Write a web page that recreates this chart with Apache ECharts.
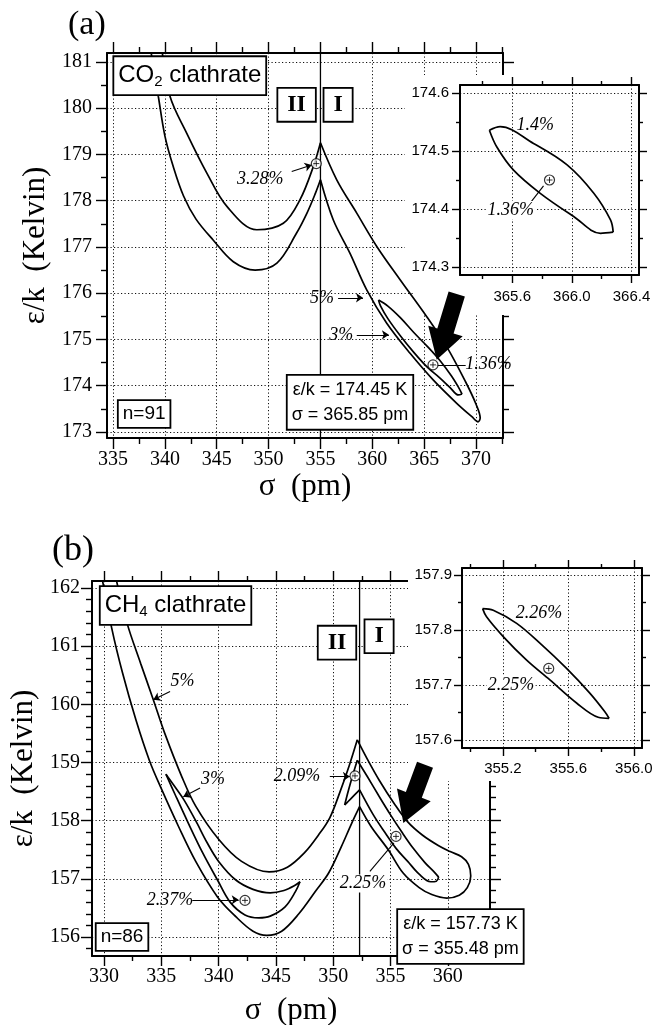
<!DOCTYPE html>
<html><head><meta charset="utf-8">
<script src="https://cdn.jsdelivr.net/npm/echarts@6/dist/echarts.min.js"></script>
<style>html,body{margin:0;padding:0;background:#fff}#c{width:655px;height:1025px}</style>
</head><body><div id="c"></div><script>
// ================= DATA =================
// ---- Panel (a): CO2 clathrate ----
const aFitSigma = 365.85, aFitEps = 174.45;
const aBoundary = 355;
const aXRange = [334.42, 372.6], aYRange = [172.87, 181.19];
const aXMajor = [335,340,345,350,355,360,365,370];
const aXMinor = [337.5,342.5,347.5,352.5,357.5,362.5,367.5,372.5];
const aYMajor = [173,174,175,176,177,178,179,180,181];
const aYMinor = [173.5,174.5,175.5,176.5,177.5,178.5,179.5,180.5];
// 5% contour, pieces between cusps
const a5LowerArm = [[338.6,181.3],[339.37,180.25],[340.0,179.4],[340.8,178.74],[341.8,178.1],[343.0,177.6],[344.65,177.15],[346.6,176.68],[348.7,176.5],[350.8,176.65],[352.7,177.3],[353.7,177.73],[354.5,178.15],[355.0,178.45]];
const a5Band = [[355.0,178.45],[356.24,177.58],[357.85,176.86],[359.46,176.07],[361.39,175.35],[363.64,174.7],[365.89,174.12],[368.14,173.62],[369.6,173.33],[370.2,173.22],[370.4,173.3],[370.0,173.6],[369.0,174.08],[367.18,174.84],[365.25,175.49],[362.68,176.29],[360.43,177.01],[358.5,177.73],[356.57,178.45],[355.0,179.25]];
const a5UpperArm = [[355.0,179.25],[354.32,178.74],[353.03,178.02],[351.42,177.51],[348.86,177.37],[346.0,177.87],[344.06,178.59],[342.1,179.46],[340.5,180.25],[339.7,181.3]];
// 3% contour
const a3Upper = [[360.6,175.85],[361.5,175.72],[362.7,175.47],[364.0,175.15],[365.3,174.85],[366.5,174.55],[367.6,174.22],[368.3,173.97],[368.65,173.82]];
const a3Lower = [[368.65,173.82],[368.3,173.8],[367.5,173.96],[366.5,174.17],[365.3,174.4],[364.0,174.72],[362.7,175.08],[361.5,175.45],[360.8,175.72],[360.6,175.85]];
const aMarkers = [[354.6,178.8],[aFitSigma,aFitEps]];
// inset (a)
const aiXRange = [365.25, 366.45], aiYRange = [174.286, 174.614];
const aiXMajor = [365.6,366.0,366.4], aiXMinor = [365.4,365.8,366.2];
const aiYMajor = [174.3,174.4,174.5,174.6], aiYMinor = [174.35,174.45,174.55];
const aiUpper = [[365.447,174.536],[365.519,174.542],[365.743,174.513],[365.968,174.476],[366.147,174.427],[366.259,174.381],[366.277,174.36]];
const aiLower = [[366.277,174.36],[366.192,174.358],[366.012,174.387],[365.788,174.427],[365.609,174.467],[365.497,174.507],[365.447,174.536]];
// annotations (a): [sigma, eps, text, kind]
const aNotes = [
  [342.4,180.7,'CO_2 clathrate','title'],
  [352.7,180.07,'II','roman'],
  [356.7,180.07,'I','roman'],
  [349.2,178.47,'3.28%','pct'],
  [355.15,175.89,'5%','pct'],
  [357.0,175.1,'3%','pct'],
  [371.2,174.47,'1.36%','pct'],
  [357.85,173.64,'param','param'],
  [338.0,173.39,'n=91','count']
];
const aiNotes = [[365.755,174.545,'1.4%','pct'],[365.59,174.398,'1.36%','pctBg']];
const aArrows = [[352.23,178.63,354.16,178.77],[356.7,175.9,359.1,175.9],[358.5,175.1,361.6,175.1]];
const aLeaders = [[366.15,174.45,369.0,174.45]];
const aiLeaders = [[365.72,174.41,365.81,174.44]];
const aBigArrow = [[368.14,175.98,366.21,174.56]];

// ---- Panel (b): CH4 clathrate ----
const bFitSigma = 355.48, bFitEps = 157.73;
const bBoundary = 352.3;
const bXRange = [328.95, 363.68], bYRange = [155.674, 162.12];
const bXMajor = [330,335,340,345,350,355,360];
const bXMinor = [332.5,337.5,342.5,347.5,352.5,357.5,362.5];
const bYMajor = [156,157,158,159,160,161,162];
const bYMinor = [155.8,156.2,156.4,156.6,156.8,157.2,157.4,157.6,157.8,158.2,158.4,158.6,158.8,159.2,159.4,159.6,159.8,160.2,160.4,160.6,160.8,161.2,161.4,161.6,161.8];
// 5% contour
const b5Lower = [[329.8,162.2],[330.67,161.31],[331.6,160.55],[332.8,159.72],[333.95,159.04],[335.0,158.55],[336.5,157.9],[338.0,157.3],[339.9,156.69],[341.5,156.35],[343.0,156.1],[344.2,156.03],[345.5,156.1],[347.0,156.4],[348.5,156.8],[349.6,157.1],[350.7,157.55],[351.6,157.95],[352.3,158.24]];
const b5Bulb = [[352.3,158.24],[353.3,157.9],[354.8,157.5],[356.1,157.1],[357.5,156.85],[358.6,156.73],[359.9,156.67],[361.0,156.72],[361.7,156.85],[362.0,157.05],[361.8,157.25],[361.2,157.38],[360.2,157.47],[359.2,157.57],[357.8,157.75],[356.5,157.98],[355.3,158.3],[354.0,158.7],[353.0,159.05],[352.1,159.39]];
const b5Upper = [[352.1,159.39],[351.4,158.95],[350.6,158.5],[349.7,158.05],[348.7,157.75],[347.5,157.45],[346.0,157.2],[344.4,157.12],[342.0,157.3],[340.0,157.68],[338.0,158.25],[336.8,158.75],[335.3,159.5],[334.3,160.08],[333.2,160.7],[332.0,161.4],[331.0,162.2]];
// 3% contours
const b3RightUpper = [[352.1,159.04],[353,158.75],[354,158.42],[355,158.1],[356,157.8],[357,157.52],[358,157.28],[358.8,157.12],[359.2,157.03]];
const b3RightLower = [[359.2,157.03],[359.0,156.96],[358.5,156.95],[357.5,157.08],[356.5,157.3],[355.5,157.52],[354.5,157.8],[353.5,158.1],[352.3,158.53]];
const b3VRight = [[352.3,158.53],[351.8,158.43],[351.3,158.33],[351.0,158.27]];
const b3VLeft = [[351.0,158.27],[351.3,158.5],[351.7,158.78],[352.1,159.04]];
const b3LeftUpper = [[335.4,158.8],[336.2,158.58],[337.0,158.35],[338.0,158.0],[339.0,157.62],[340.0,157.3],[341.5,156.98],[343.0,156.82],[344.5,156.76],[345.7,156.8],[346.6,156.88],[347.1,156.95]];
const b3LeftLower = [[347.1,156.95],[346.7,156.78],[345.8,156.52],[344.5,156.36],[343.5,156.33],[342.3,156.38],[341.0,156.6],[339.9,156.98],[338.6,157.45],[337.3,157.98],[336.2,158.45],[335.4,158.8]];
const bMarkers = [[351.9,158.77],[342.3,156.63],[bFitSigma,bFitEps]];
// inset (b)
const biXRange = [354.95, 356.05], biYRange = [157.585, 157.913];
const biXMajor = [355.2,355.6,356.0], biXMinor = [355.0,355.4,355.8];
const biYMajor = [157.6,157.7,157.8,157.9], biYMinor = [157.65,157.75,157.85];
const biUpper = [[355.076,157.839],[355.141,157.836],[355.284,157.812],[355.426,157.776],[355.589,157.730],[355.731,157.685],[355.823,157.651],[355.849,157.639]];
const biLower = [[355.849,157.639],[355.782,157.641],[355.650,157.667],[355.487,157.709],[355.345,157.745],[355.202,157.788],[355.100,157.824],[355.076,157.839]];
const bNotes = [
  [336.24,161.7,'CH_4 clathrate','title'],
  [350.33,161.06,'II','roman'],
  [354.0,161.17,'I','roman'],
  [336.85,160.4,'5%','pct'],
  [339.5,158.72,'3%','pct'],
  [346.84,158.76,'2.09%','pct'],
  [335.76,156.64,'2.37%','pct'],
  [352.6,156.92,'2.25%','pctBg'],
  [361.1,156.01,'param','param'],
  [331.57,156.0,'n=86','count']
];
const biNotes = [[355.42,157.83,'2.26%','pct'],[355.25,157.70,'2.25%','pctBg']];
const bArrows = [[335.76,160.22,334.3,160.08],[338.38,158.56,336.92,158.41],[349.7,158.76,351.45,158.76],[337.7,156.64,341.75,156.64]];
const bLeaders = [[353.2,157.13,355.3,157.62]];
const bBigArrow = [[358.01,158.96,356.12,157.96]];

// ================= STYLE / BUILD =================
const SERIF = '"Liberation Serif","Times New Roman","DejaVu Serif",serif';
const SANS = '"Liberation Sans",Arial,Helvetica,sans-serif';
const xAxes = [], yAxes = [];

function addAxes(dim, gi, range, majors, minors, st) {
  const list = dim === 'x' ? xAxes : yAxes;
  const sides = dim === 'x' ? ['bottom','top'] : ['left','right'];
  const idx = list.length;
  const common = {type:'value', gridIndex:gi, min:range[0], max:range[1], z:st.z,
    axisPointer:{show:false}, minorTick:{show:false}, minorSplitLine:{show:false}};
  const lineOn = {show:true, onZero:false, lineStyle:{color:'#000', width:st.lineW}};
  const lineOff = {show:false, onZero:false};
  const tick = (vals, len) => ({show:true, inside:false, customValues:vals, length:len, lineStyle:{color:'#000', width:1.4}});
  list.push(Object.assign({}, common, {position:sides[0], axisLine:lineOn, axisTick:tick(majors, st.major),
    axisLabel:{show:true, customValues:majors, formatter:st.fmt, color:'#000', fontFamily:st.font, fontSize:st.fontSize, margin:st.margin},
    splitLine:{show:true, lineStyle:{color:'#111', width:1, type:[1.2,2.3]}},
    name:st.name || '', nameLocation:'middle', nameGap:st.nameGap || 0,
    nameTextStyle:{fontFamily:SERIF, fontSize:31, color:'#000'}}));
  list.push(Object.assign({}, common, {position:sides[0], axisLine:lineOff, axisTick:tick(minors, st.minor), axisLabel:{show:false}, splitLine:{show:false}}));
  list.push(Object.assign({}, common, {position:sides[1], axisLine:lineOn, axisTick:tick(majors, st.major), axisLabel:{show:false}, splitLine:{show:false}}));
  list.push(Object.assign({}, common, {position:sides[1], axisLine:lineOff, axisTick:tick(minors, st.minor), axisLabel:{show:false}, splitLine:{show:false}}));
  return idx;
}
const intFmt = v => String(Math.round(v));
const f1 = v => v.toFixed(1);
const mainStyle = (fs, major, minor, margin, name, gap) => ({z:0, lineW:2, major, minor, fmt:intFmt, font:SERIF, fontSize:fs, margin, name, nameGap:gap});
const insetStyle = (margin) => ({z:60, lineW:2, major:8, minor:4, fmt:f1, font:SANS, fontSize:15, margin});

const ax = {
  aX: addAxes('x', 0, aXRange, aXMajor, aXMinor, mainStyle(20, 11, 6, 12, 'σ  (pm)', 33)),
  aY: addAxes('y', 0, aYRange, aYMajor, aYMinor, mainStyle(20, 11, 6, 15, 'ε/k  (Kelvin)', 55)),
  aiX: addAxes('x', 1, aiXRange, aiXMajor, aiXMinor, insetStyle(14)),
  aiY: addAxes('y', 1, aiYRange, aiYMajor, aiYMinor, insetStyle(11)),
  bX: addAxes('x', 2, bXRange, bXMajor, bXMinor, mainStyle(20, 10, 5, 11, 'σ  (pm)', 39)),
  bY: addAxes('y', 2, bYRange, bYMajor, bYMinor, mainStyle(20, 11, 6, 12, 'ε/k  (Kelvin)', 53)),
  biX: addAxes('x', 3, biXRange, biXMajor, biXMinor, insetStyle(13)),
  biY: addAxes('y', 3, biYRange, biYMajor, biYMinor, insetStyle(10))
};

const series = [];
function curve(xi, yi, pts, z) {
  series.push({type:'line', xAxisIndex:xi, yAxisIndex:yi, data:pts, showSymbol:false, symbol:'none',
    smooth:0.35, lineStyle:{color:'#000', width:1.7}, z:z, silent:true, clip:true});
}
function vline(xi, yi, x, yr, z) {
  series.push({type:'line', xAxisIndex:xi, yAxisIndex:yi, data:[[x, yr[0]],[x, yr[1]]], showSymbol:false, symbol:'none',
    lineStyle:{color:'#000', width:1.3}, z:z, silent:true});
}
function arrows(xi, yi, list, head, z) {
  series.push({type:'lines', coordinateSystem:'cartesian2d', xAxisIndex:xi, yAxisIndex:yi,
    data:list.map(a => ({coords:[[a[0],a[1]],[a[2],a[3]]]})),
    symbol: head ? ['none','arrow'] : ['none','none'], symbolSize:[0,7],
    lineStyle:{color:'#000', width:1.1, opacity:1, curveness:0}, z:z, silent:true});
}
function markers(xi, yi, pts, z) {
  series.push({type:'scatter', xAxisIndex:xi, yAxisIndex:yi, data:pts, symbol:'circle', symbolSize:10,
    itemStyle:{color:'#fff', borderColor:'#000', borderWidth:1.2}, z:z, silent:true});
  series.push({type:'scatter', xAxisIndex:xi, yAxisIndex:yi, data:pts, symbol:'path://M0,5L10,5M5,0L5,10', symbolSize:6,
    itemStyle:{color:'none', borderColor:'#000', borderWidth:1}, z:z+1, silent:true});
}
function bigArrow(xi, yi, data, z) {
  series.push({type:'custom', xAxisIndex:xi, yAxisIndex:yi, data:data, encode:{x:[0,2], y:[1,3]}, z:z, silent:true,
    renderItem:(p, api) => {
      const t = api.coord([api.value(0), api.value(1)]), h = api.coord([api.value(2), api.value(3)]);
      const dx = h[0]-t[0], dy = h[1]-t[1], L = Math.hypot(dx, dy), ux = dx/L, uy = dy/L, px = -uy, py = ux;
      const hw = 8.5, HW = 18, HL = 30;
      const bx = h[0]-ux*HL, by = h[1]-uy*HL;
      return {type:'polygon', shape:{points:[[t[0]+px*hw,t[1]+py*hw],[bx+px*hw,by+py*hw],[bx+px*HW,by+py*HW],[h[0],h[1]],
        [bx-px*HW,by-py*HW],[bx-px*hw,by-py*hw],[t[0]-px*hw,t[1]-py*hw]]}, style:{fill:'#000'}};
    }});
}
const boxBase = {backgroundColor:'#ffffff', borderColor:'#000', borderWidth:1.8};
function noteLabel(n, fitS, fitE) {
  const kind = n[3], t = n[2];
  const base = {show:true, position:'inside', color:'#000', textBorderWidth:0, opacity:1};
  if (kind === 'pct') return Object.assign(base, {formatter:t, fontFamily:SERIF, fontStyle:'italic', fontSize:18});
  if (kind === 'pctBg') return Object.assign(base, {formatter:t, fontFamily:SERIF, fontStyle:'italic', fontSize:18, backgroundColor:'#ffffff', padding:[0,1]});
  if (kind === 'roman') return Object.assign(base, boxBase, {formatter:t, fontFamily:SERIF, fontWeight:'bold', fontSize:24, padding:[5,9,3,9]});
  if (kind === 'count') return Object.assign(base, boxBase, {formatter:t, fontFamily:SANS, fontSize:19, padding:[4,4,3,4]});
  if (kind === 'param') return Object.assign(base, boxBase, {formatter:'ε/k = ' + fitE.toFixed(2) + ' K\nσ = ' + fitS.toFixed(2) + ' pm',
    fontFamily:SANS, fontSize:18, lineHeight:25, padding:[2,4,1,4]});
  if (kind === 'title') {
    const f = '{t|' + t.replace(/_(\d)/, '}{s|$1}{t|') + '}';
    return Object.assign(base, boxBase, {formatter:f, padding:[4,4,5,4],
      rich:{t:{fontFamily:SANS, fontSize:24, color:'#000', lineHeight:28, verticalAlign:'middle'},
            s:{fontFamily:SANS, fontSize:15, color:'#000', lineHeight:14, verticalAlign:'bottom'}}});
  }
}
function notes(xi, yi, list, fitS, fitE, z) {
  series.push({type:'scatter', xAxisIndex:xi, yAxisIndex:yi, symbolSize:1, itemStyle:{color:'rgba(0,0,0,0)'}, z:z, silent:true,
    emphasis:{disabled:true}, data:list.map(n => ({value:[n[0], n[1]], label:noteLabel(n, fitS, fitE)}))});
}

// panel (a)
vline(ax.aX, ax.aY, aBoundary, aYRange, 54);
[a5LowerArm, a5Band, a5UpperArm, a3Upper, a3Lower].forEach(c => curve(ax.aX, ax.aY, c, 55));
arrows(ax.aX, ax.aY, aArrows, true, 56);
arrows(ax.aX, ax.aY, aLeaders, false, 56);
markers(ax.aX, ax.aY, aMarkers, 57);
bigArrow(ax.aX, ax.aY, aBigArrow, 58);
notes(ax.aX, ax.aY, aNotes, aFitSigma, aFitEps, 59);
// inset (a)
[aiUpper, aiLower].forEach(c => curve(ax.aiX, ax.aiY, c, 62));
arrows(ax.aiX, ax.aiY, aiLeaders, false, 63);
notes(ax.aiX, ax.aiY, aiNotes, aFitSigma, aFitEps, 63);
markers(ax.aiX, ax.aiY, [[aFitSigma, aFitEps]], 64);
// panel (b)
vline(ax.bX, ax.bY, bBoundary, bYRange, 54);
[b5Lower, b5Bulb, b5Upper, b3RightUpper, b3RightLower, b3VRight, b3VLeft, b3LeftUpper, b3LeftLower].forEach(c => curve(ax.bX, ax.bY, c, 55));
arrows(ax.bX, ax.bY, bArrows, true, 56);
arrows(ax.bX, ax.bY, bLeaders, false, 56);
notes(ax.bX, ax.bY, bNotes, bFitSigma, bFitEps, 57);
markers(ax.bX, ax.bY, bMarkers, 58);
bigArrow(ax.bX, ax.bY, bBigArrow, 59);
// inset (b)
[biUpper, biLower].forEach(c => curve(ax.biX, ax.biY, c, 62));
notes(ax.biX, ax.biY, biNotes, bFitSigma, bFitEps, 63);
markers(ax.biX, ax.biY, [[bFitSigma, bFitEps]], 64);

const chart = echarts.init(document.getElementById('c'), null, {renderer:'canvas', width:655, height:1025});
chart.setOption({
  animation:false,
  backgroundColor:'#fff',
  title:[
    {text:'(a)', left:68, top:8, padding:0, textStyle:{fontFamily:SERIF, fontSize:34, fontWeight:'normal', color:'#000'}},
    {text:'(b)', left:52, top:533, padding:0, textStyle:{fontFamily:SERIF, fontSize:36, fontWeight:'normal', color:'#000'}}
  ],
  grid:[
    {left:107, top:53, width:396, height:385, outerBoundsMode:'none', containLabel:false},
    {left:460, top:85, width:179, height:190, outerBoundsMode:'none', containLabel:false},
    {left:92, top:581, width:398, height:375, outerBoundsMode:'none', containLabel:false},
    {left:462, top:568, width:180, height:180, outerBoundsMode:'none', containLabel:false}
  ],
  graphic:[
    {type:'rect', z:50, silent:true, shape:{x:405, y:75, width:250, height:205}, style:{fill:'#fff'}},
    {type:'rect', z:50, silent:true, shape:{x:413, y:279, width:242, height:36}, style:{fill:'#fff'}},
    {type:'rect', z:50, silent:true, shape:{x:408, y:558, width:247, height:223}, style:{fill:'#fff'}}
  ],
  xAxis:xAxes,
  yAxis:yAxes,
  series:series
});
</script></body></html>
